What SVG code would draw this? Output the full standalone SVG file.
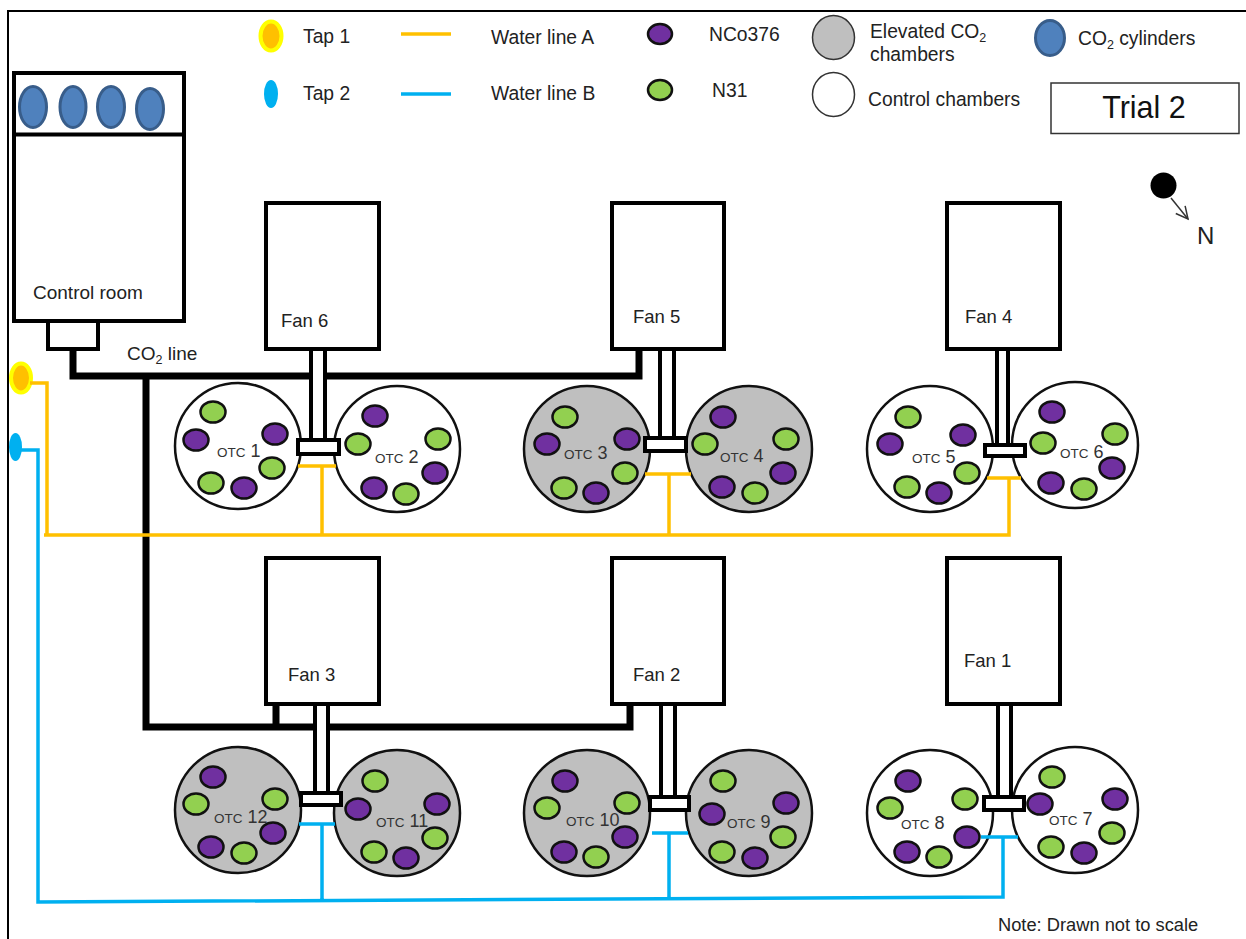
<svg xmlns="http://www.w3.org/2000/svg" width="1246" height="939" viewBox="0 0 1246 939">
<style>
text{font-family:"Liberation Sans",Arial,sans-serif;font-size:19.300px;fill:#222}
.fan{font-size:18.500px}
.box{fill:#fff;stroke:#000;stroke-width:4}
.ctl{fill:#fff;stroke:#111;stroke-width:2.500}
.ele{fill:#bfbfbf;stroke:#111;stroke-width:2.500}
.p{fill:#7030a0;stroke:#111;stroke-width:2.500}
.g{fill:#92d050;stroke:#111;stroke-width:2.500}
.cyl{fill:#4f81bd;stroke:#385d8a;stroke-width:3}
.co2{fill:none;stroke:#000;stroke-width:7}
.a{fill:none;stroke:#ffc000;stroke-width:3.500}
.b{fill:none;stroke:#00b0f0;stroke-width:3.500}
.otc{font-size:13.500px;fill:#333}
.num{font-size:18px;fill:#333}
.sub{font-size:12.500px}
.duct{fill:#fff;stroke:#000;stroke-width:4}
</style>
<defs>
<marker id="arr" markerUnits="userSpaceOnUse" markerWidth="16" markerHeight="16" refX="13" refY="7" orient="auto"><path d="M1 1L13 7L1 13" fill="none" stroke="#333" stroke-width="1.500"/></marker>
<ellipse id="pot" rx="12.500" ry="10.500"/>
</defs>
<rect width="1246" height="939" fill="#fff"/>
<path d="M8 939V11H1246" fill="none" stroke="#000" stroke-width="2"/>

<g id="legend">
<ellipse cx="271" cy="36" rx="10.500" ry="14.500" fill="#ffc000" stroke="#ffff00" stroke-width="4"/>
<text x="303" y="43">Tap 1</text>
<ellipse cx="271" cy="94" rx="7" ry="14" fill="#00b0f0"/>
<text x="303" y="100">Tap 2</text>
<path class="a" d="M401 34H451"/>
<path class="b" d="M401 94H451"/>
<text x="491" y="44">Water line A</text>
<text x="491" y="100">Water line B</text>
<ellipse class="p" cx="660" cy="34" rx="12" ry="10"/>
<ellipse class="g" cx="660" cy="90" rx="12" ry="10"/>
<text x="709" y="41">NCo376</text>
<text x="712" y="97">N31</text>
<ellipse cx="833.500" cy="37.500" rx="21" ry="22" fill="#bfbfbf" stroke="#333" stroke-width="1.500"/>
<ellipse cx="833.500" cy="94.500" rx="21" ry="22" fill="#fff" stroke="#333" stroke-width="1.500"/>
<text x="870" y="38">Elevated CO<tspan class="sub" dy="4">2</tspan></text>
<text x="870" y="61">chambers</text>
<text x="868" y="106">Control chambers</text>
<ellipse class="cyl" cx="1050" cy="38" rx="14.500" ry="17.500"/>
<text x="1078" y="45">CO<tspan class="sub" dy="4">2</tspan><tspan dy="-4"> cylinders</tspan></text>
<rect x="1051" y="83" width="188" height="50.500" fill="#fff" stroke="#333" stroke-width="1.500"/>
<text x="1144" y="118" text-anchor="middle" style="font-size:30.500px;fill:#111">Trial 2</text>
<circle cx="1163.500" cy="185.500" r="13" fill="#000"/>
<path d="M1171 198L1188 219" fill="none" stroke="#333" stroke-width="1.500" marker-end="url(#arr)"/>
<text x="1197" y="244" style="font-size:24px">N</text>
<text x="998" y="931" style="font-size:18.300px">Note: Drawn not to scale</text>
</g>

<g id="tap1"><ellipse cx="21" cy="378" rx="10" ry="14.500" fill="#ffc000" stroke="#ffff00" stroke-width="4"/></g>
<g id="tap2"><ellipse cx="15.500" cy="447" rx="6.500" ry="14" fill="#00b0f0"/></g>

<g id="control-room">
<rect class="box" x="14" y="73" width="170" height="248"/>
<path d="M12 134.500H184" stroke="#000" stroke-width="4"/>
<ellipse class="cyl" cx="33" cy="107" rx="13.500" ry="20.500"/>
<ellipse class="cyl" cx="73" cy="107" rx="13" ry="20.500"/>
<ellipse class="cyl" cx="111" cy="107" rx="13.500" ry="20.500"/>
<ellipse class="cyl" cx="150" cy="109" rx="13.500" ry="20.500"/>
<text x="33" y="299" style="font-size:19px">Control room</text>
<rect class="box" x="48" y="321" width="50" height="28"/>
</g>
<text id="co2-label" x="127" y="360" style="font-size:19px">CO<tspan class="sub" dy="4">2</tspan><tspan dy="-4"> line</tspan></text>

<g id="fan6"><rect class="box" x="266" y="203" width="113" height="146"/><text class="fan" x="281" y="327">Fan 6</text></g>
<g id="fan5"><rect class="box" x="612" y="203" width="112" height="146"/><text class="fan" x="633" y="323">Fan 5</text></g>
<g id="fan4"><rect class="box" x="947" y="203" width="113" height="146"/><text class="fan" x="965" y="323">Fan 4</text></g>
<g id="fan3"><rect class="box" x="266" y="558" width="113" height="146"/><text class="fan" x="288" y="681">Fan 3</text></g>
<g id="fan2"><rect class="box" x="612" y="558" width="112" height="146"/><text class="fan" x="633" y="681">Fan 2</text></g>
<g id="fan1"><rect class="box" x="947" y="558" width="113" height="146"/><text class="fan" x="964" y="667">Fan 1</text></g>

<g id="otc1"><circle class="ctl" cx="238" cy="446" r="63"/>
<use href="#pot" class="g" x="213" y="412"/><use href="#pot" class="p" x="196" y="440"/><use href="#pot" class="p" x="275" y="434"/><use href="#pot" class="g" x="272" y="468"/><use href="#pot" class="g" x="211" y="483"/><use href="#pot" class="p" x="244" y="488"/>
<text x="217" y="457"><tspan class="otc">OTC</tspan><tspan class="num"> 1</tspan></text></g>
<g id="otc2"><circle class="ctl" cx="397" cy="449" r="63"/>
<use href="#pot" class="p" x="375" y="416"/><use href="#pot" class="g" x="358" y="444"/><use href="#pot" class="g" x="438" y="439"/><use href="#pot" class="p" x="435" y="473"/><use href="#pot" class="p" x="374" y="488"/><use href="#pot" class="g" x="406" y="494"/>
<text x="375" y="463"><tspan class="otc">OTC</tspan><tspan class="num"> 2</tspan></text></g>
<g id="otc3"><circle class="ele" cx="587" cy="449" r="63"/>
<use href="#pot" class="g" x="565" y="417"/><use href="#pot" class="p" x="547" y="444"/><use href="#pot" class="p" x="627" y="439"/><use href="#pot" class="g" x="625" y="473"/><use href="#pot" class="g" x="564" y="488"/><use href="#pot" class="p" x="596" y="493"/>
<text x="564" y="459"><tspan class="otc">OTC</tspan><tspan class="num"> 3</tspan></text></g>
<g id="otc4"><circle class="ele" cx="749" cy="449" r="63"/>
<use href="#pot" class="p" x="723" y="417"/><use href="#pot" class="g" x="705" y="444"/><use href="#pot" class="g" x="786" y="439"/><use href="#pot" class="p" x="783" y="473"/><use href="#pot" class="p" x="722" y="487"/><use href="#pot" class="g" x="755" y="493"/>
<text x="720" y="462"><tspan class="otc">OTC</tspan><tspan class="num"> 4</tspan></text></g>
<g id="otc5"><circle class="ctl" cx="930" cy="449" r="63"/>
<use href="#pot" class="g" x="908" y="417"/><use href="#pot" class="p" x="890" y="444"/><use href="#pot" class="p" x="963" y="435"/><use href="#pot" class="g" x="967" y="473"/><use href="#pot" class="g" x="907" y="487"/><use href="#pot" class="p" x="939" y="493"/>
<text x="912" y="463"><tspan class="otc">OTC</tspan><tspan class="num"> 5</tspan></text></g>
<g id="otc6"><circle class="ctl" cx="1075" cy="445" r="63"/>
<use href="#pot" class="p" x="1052" y="412"/><use href="#pot" class="g" x="1043" y="443"/><use href="#pot" class="g" x="1115" y="434"/><use href="#pot" class="p" x="1112" y="468"/><use href="#pot" class="p" x="1051" y="483"/><use href="#pot" class="g" x="1084" y="489"/>
<text x="1060" y="458"><tspan class="otc">OTC</tspan><tspan class="num"> 6</tspan></text></g>
<g id="otc12"><circle class="ele" cx="238" cy="810" r="63"/>
<use href="#pot" class="p" x="213" y="777"/><use href="#pot" class="g" x="196" y="804"/><use href="#pot" class="g" x="275" y="799"/><use href="#pot" class="p" x="273" y="833"/><use href="#pot" class="p" x="211" y="847"/><use href="#pot" class="g" x="244" y="853"/>
<text x="214" y="823"><tspan class="otc">OTC</tspan><tspan class="num"> 12</tspan></text></g>
<g id="otc11"><circle class="ele" cx="397" cy="813" r="63"/>
<use href="#pot" class="g" x="375" y="781"/><use href="#pot" class="p" x="358" y="809"/><use href="#pot" class="p" x="437" y="804"/><use href="#pot" class="g" x="435" y="838"/><use href="#pot" class="g" x="374" y="852"/><use href="#pot" class="p" x="406" y="858"/>
<text x="376" y="827"><tspan class="otc">OTC</tspan><tspan class="num"> 11</tspan></text></g>
<g id="otc10"><circle class="ele" cx="587" cy="813" r="63"/>
<use href="#pot" class="p" x="565" y="781"/><use href="#pot" class="g" x="547" y="808"/><use href="#pot" class="g" x="627" y="803"/><use href="#pot" class="p" x="625" y="837"/><use href="#pot" class="p" x="564" y="852"/><use href="#pot" class="g" x="596" y="857"/>
<text x="566" y="826"><tspan class="otc">OTC</tspan><tspan class="num"> 10</tspan></text></g>
<g id="otc9"><circle class="ele" cx="749" cy="813" r="63"/>
<use href="#pot" class="g" x="723" y="781"/><use href="#pot" class="p" x="712" y="814"/><use href="#pot" class="p" x="786" y="803"/><use href="#pot" class="g" x="783" y="837"/><use href="#pot" class="g" x="722" y="852"/><use href="#pot" class="p" x="755" y="858"/>
<text x="727" y="828"><tspan class="otc">OTC</tspan><tspan class="num"> 9</tspan></text></g>
<g id="otc8"><circle class="ctl" cx="930" cy="813" r="63"/>
<use href="#pot" class="p" x="908" y="781"/><use href="#pot" class="g" x="890" y="808"/><use href="#pot" class="g" x="965" y="799"/><use href="#pot" class="p" x="967" y="837"/><use href="#pot" class="p" x="907" y="852"/><use href="#pot" class="g" x="939" y="857"/>
<text x="901" y="829"><tspan class="otc">OTC</tspan><tspan class="num"> 8</tspan></text></g>
<g id="otc7"><circle class="ctl" cx="1075" cy="810" r="63"/>
<use href="#pot" class="g" x="1052" y="777"/><use href="#pot" class="p" x="1040" y="804"/><use href="#pot" class="p" x="1115" y="799"/><use href="#pot" class="g" x="1112" y="833"/><use href="#pot" class="g" x="1051" y="847"/><use href="#pot" class="p" x="1084" y="853"/>
<text x="1049" y="825"><tspan class="otc">OTC</tspan><tspan class="num"> 7</tspan></text></g>

<g id="connectors">
<path class="co2" d="M73 350V376H639V350M146 376V727H630V706M276 727V706"/>
<path class="a" d="M30 383H47V535M44 535H1009V478M322 535V466M298 466H336M669 535V474M645 474H691M987 478H1021"/>
<path class="b" d="M20 450H38V902L1003 897V837M322 901V824M299 824H335M669 899V833M652 833H688M981 837H1018"/>
</g>

<g id="ducts">
<rect class="duct" x="311" y="349" width="14" height="91"/><rect class="duct" x="298" y="440" width="41" height="14"/>
<rect class="duct" x="660" y="349" width="14" height="89"/><rect class="duct" x="645" y="438" width="41" height="13"/>
<rect class="duct" x="997" y="349" width="11" height="96"/><rect class="duct" x="985" y="445" width="40" height="11"/>
<rect class="duct" x="315" y="704" width="13" height="89"/><rect class="duct" x="301" y="793" width="40" height="12"/>
<rect class="duct" x="661" y="704" width="14" height="93"/><rect class="duct" x="650" y="797" width="39" height="13"/>
<rect class="duct" x="998" y="704" width="13" height="93"/><rect class="duct" x="984" y="797" width="40" height="13"/>
</g>
</svg>
